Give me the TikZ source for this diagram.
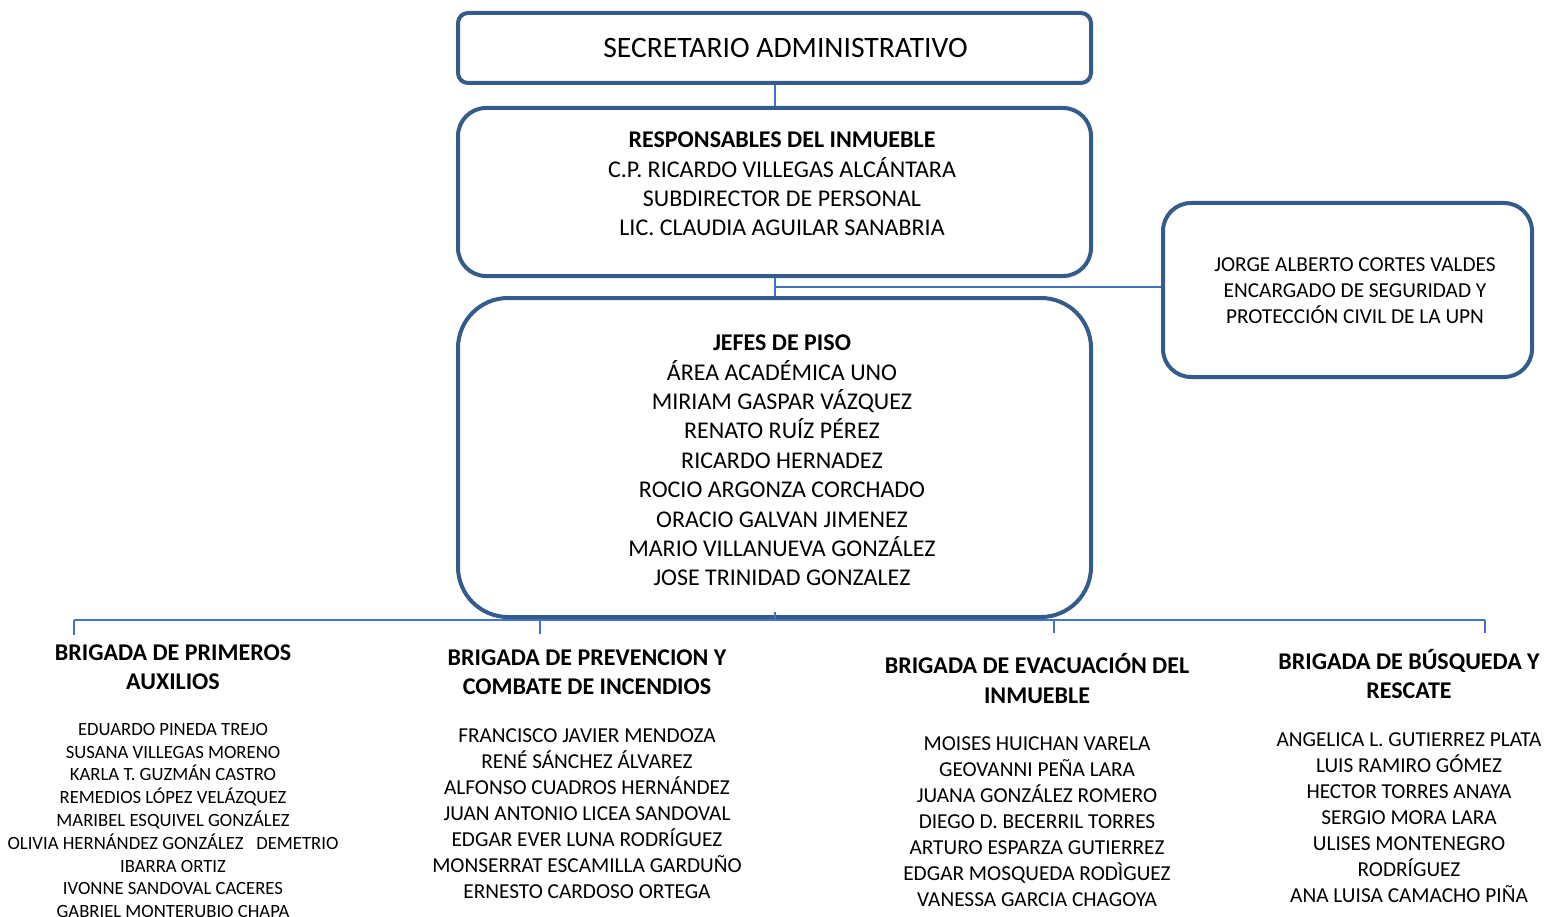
\documentclass[tikz,border=0pt]{standalone}
\usepackage{fontspec}
\setmainfont{Carlito}
\definecolor{boxblue}{HTML}{335C8C}
\definecolor{linkblue}{HTML}{4472C4}
\tikzset{
  orgbox/.style={draw=boxblue, line width=4pt, fill=white, inner sep=0pt},
  link/.style={draw=linkblue, line width=1.2pt},
  txt/.style={align=center, inner sep=0pt, text=black},
  big/.style={font=\fontsize{29.6}{35}\selectfont},
  main/.style={font=\fontsize{24}{29.4}\selectfont},
  mid/.style={font=\fontsize{21.3}{26}\selectfont},
  small/.style={font=\fontsize{18.7}{22.8}\selectfont},
  title/.style={font=\fontsize{24}{29.3}\selectfont\bfseries},
}
\begin{document}
\begin{tikzpicture}[x=1pt,y=-1pt]
\useasboundingbox (0,0) rectangle (1546,917);
% boxes
\node[orgbox, rounded corners=10pt, minimum width=633pt, minimum height=70pt] (sec) at (774.5,48) {};
\node[orgbox, rounded corners=28pt, minimum width=633pt, minimum height=168pt] (resp) at (774.5,192) {};
\node[orgbox, rounded corners=50pt, minimum width=633pt, minimum height=319pt] (jefes) at (774.5,457.5) {};
\node[orgbox, rounded corners=28pt, minimum width=369pt, minimum height=174pt] (jorge) at (1347.5,290) {};
% connectors
\coordinate (busL) at (74,620);
\coordinate (busR) at (1485,620);
\coordinate (bus1) at (540,620);
\coordinate (bus3) at (1054,620);
\coordinate (busC) at (775,620);
\coordinate (t0) at (74,635);
\coordinate (t1) at (540,634);
\coordinate (t3) at (1054,633);
\coordinate (t4) at (1485,633);
\coordinate (side) at (775,287);
\draw[link] (sec.south -| 775,0) -- (resp.north -| 775,0);
\draw[link] (resp.south -| 775,0) -- (jefes.north -| 775,0);
\draw[link] (side) -- (jorge.west |- side);
\draw[link] (775,612) -- (busC);
\draw[link] (busL) -- (busR);
\draw[link] (busL) -- (t0);
\draw[link] (bus1) -- (t1);
\draw[link] (bus3) -- (t3);
\draw[link] (busR) -- (t4);
% texts
\node[txt, big] (secT) at (785.5,48.5) {SECRETARIO ADMINISTRATIVO};
\node[txt, main] (respT) at (782,184) {\textbf{RESPONSABLES DEL INMUEBLE}\\C.P. RICARDO VILLEGAS ALCÁNTARA\\SUBDIRECTOR DE PERSONAL\\LIC. CLAUDIA AGUILAR SANABRIA};
\node[txt, main] (jefesT) at (782,460.5) {\textbf{JEFES DE PISO}\\ÁREA ACADÉMICA UNO\\MIRIAM GASPAR VÁZQUEZ\\RENATO RUÍZ PÉREZ\\RICARDO HERNADEZ\\ROCIO ARGONZA CORCHADO\\ORACIO GALVAN JIMENEZ\\MARIO VILLANUEVA GONZÁLEZ\\JOSE TRINIDAD GONZALEZ};
\node[txt, mid] (jorgeT) at (1355,291) {JORGE ALBERTO CORTES VALDES\\ENCARGADO DE SEGURIDAD Y\\PROTECCIÓN CIVIL DE LA UPN};
% brigades
\node[txt, title] (b1) at (173,667.5) {BRIGADA DE PRIMEROS\\AUXILIOS};
\node[txt, small] (b1n) at (173,820.5) {EDUARDO PINEDA TREJO\\SUSANA VILLEGAS MORENO\\KARLA T. GUZMÁN CASTRO\\REMEDIOS LÓPEZ VELÁZQUEZ\\MARIBEL ESQUIVEL GONZÁLEZ\\OLIVIA HERNÁNDEZ GONZÁLEZ\ \ \ DEMETRIO\\IBARRA ORTIZ\\IVONNE SANDOVAL CACERES\\GABRIEL MONTERUBIO CHAPA};
\node[txt, title] (b2) at (587,672) {BRIGADA DE PREVENCION Y\\COMBATE DE INCENDIOS};
\node[txt, mid] (b2n) at (587,814) {FRANCISCO JAVIER MENDOZA\\RENÉ SÁNCHEZ ÁLVAREZ\\ALFONSO CUADROS HERNÁNDEZ\\JUAN ANTONIO LICEA SANDOVAL\\EDGAR EVER LUNA RODRÍGUEZ\\MONSERRAT ESCAMILLA GARDUÑO\\ERNESTO CARDOSO ORTEGA};
\node[txt, title] (b3) at (1037,678.5) {BRIGADA DE EVACUACIÓN DEL\\INMUEBLE};
\node[txt, mid] (b3n) at (1037,822) {MOISES HUICHAN VARELA\\GEOVANNI PEÑA LARA\\JUANA GONZÁLEZ ROMERO\\DIEGO D. BECERRIL TORRES\\ARTURO ESPARZA GUTIERREZ\\EDGAR MOSQUEDA RODÌGUEZ\\VANESSA GARCIA CHAGOYA};
\node[txt, title] (b4) at (1409,674) {BRIGADA DE BÚSQUEDA Y\\RESCATE};
\node[txt, mid] (b4n) at (1409,818) {ANGELICA L. GUTIERREZ PLATA\\LUIS RAMIRO GÓMEZ\\HECTOR TORRES ANAYA\\SERGIO MORA LARA\\ULISES MONTENEGRO\\RODRÍGUEZ\\ANA LUISA CAMACHO PIÑA};
\end{tikzpicture}
\end{document}
